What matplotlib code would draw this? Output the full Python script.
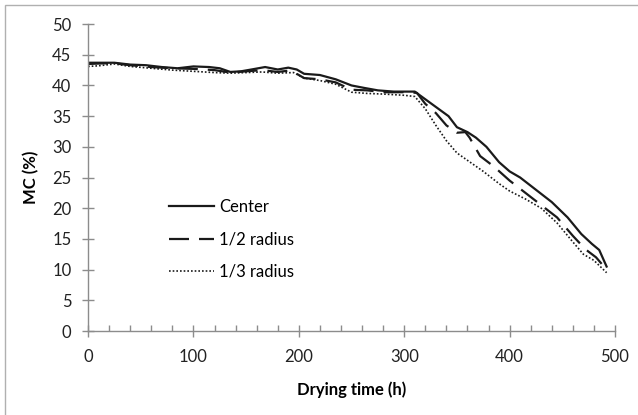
import matplotlib.pyplot as plt
from matplotlib import rcParams
from matplotlib.patches import Rectangle
from matplotlib.ticker import MultipleLocator

rcParams['font.family'] = ['Lato', 'DejaVu Sans']

# Drying time (h) and moisture content (%) for each position
center_t = [0, 10, 25, 40, 55, 70, 85, 100, 115, 125, 135, 145, 155, 168, 180, 190, 198,
            205, 220, 235, 250, 262, 275, 290, 310, 318, 330, 342, 350, 360, 368, 378,
            390, 400, 410, 425, 440, 455, 468, 478, 485, 492]
center_mc = [43.7, 43.7, 43.7, 43.4, 43.3, 43.0, 42.8, 43.1, 43.0, 42.8, 42.2, 42.3, 42.6,
             43.0, 42.6, 42.9, 42.6, 41.9, 41.7, 41.0, 40.0, 39.6, 39.2, 39.0, 39.0, 38.0,
             36.5, 35.0, 33.2, 32.4, 31.5, 30.0, 27.5, 26.0, 25.0, 23.0, 21.0, 18.5, 15.8,
             14.2, 13.2, 10.5]

half_t = [0, 15, 25, 40, 60, 80, 100, 120, 135, 150, 165, 180, 190, 197, 205, 220, 235,
          250, 265, 280, 300, 312, 320, 330, 340, 350, 358, 362, 372, 385, 400, 415, 430,
          445, 460, 472, 482, 492]
half_mc = [43.5, 43.6, 43.6, 43.3, 43.0, 42.8, 42.7, 42.5, 42.1, 42.3, 42.5, 42.2, 42.4,
           42.0, 41.2, 41.0, 40.5, 39.3, 39.2, 38.9, 38.9, 38.8, 37.0, 35.5, 33.5, 32.3,
           32.4, 31.5, 28.5, 26.8, 24.5, 22.5, 20.5, 18.5, 15.5, 13.3, 12.0, 10.0]

third_t = [0, 10, 25, 40, 60, 80, 100, 120, 135, 150, 165, 180, 195, 205, 220, 235, 250,
           265, 280, 300, 310, 320, 330, 340, 350, 360, 375, 390, 400, 415, 430, 445, 460,
           470, 480, 492]
third_mc = [43.1, 43.2, 43.5, 43.1, 42.8, 42.5, 42.3, 42.1, 42.0, 42.1, 42.2, 42.0, 42.1,
            41.2, 40.8, 40.2, 38.9, 38.7, 38.6, 38.4, 38.2, 36.2, 33.5, 31.0, 29.0, 27.8,
            26.0, 24.0, 22.8, 21.5, 20.0, 17.6, 14.5, 12.5, 11.5, 9.5]

fig = plt.figure(figsize=(6.38, 4.15), dpi=100)
ax = fig.add_axes([0.138, 0.2024, 0.826, 0.7396])

# Excel style chart border (only top/left visible in crop)
fig.patches.append(Rectangle((5 / 638, -0.1), 1.2, 1.1 - 5 / 415,
                             transform=fig.transFigure, fill=False,
                             ec='#b0b0b0', lw=1.0))

ax.plot(center_t, center_mc, color='#1a1a1a', lw=1.6, label='Center')
ax.plot(half_t, half_mc, color='#1a1a1a', lw=1.6, dashes=(9, 4.5), label='1/2 radius')
ax.plot(third_t, third_mc, color='#1a1a1a', lw=1.2, dashes=(1, 1.2), label='1/3 radius')

ax.set_xlim(0, 500)
ax.set_ylim(0, 50)
for s in ['top', 'right']:
    ax.spines[s].set_visible(False)
for s in ['left', 'bottom']:
    ax.spines[s].set_color('#8c8c8c')
    ax.spines[s].set_linewidth(1.0)

ax.xaxis.set_major_locator(MultipleLocator(100))
ax.xaxis.set_minor_locator(MultipleLocator(20))
ax.yaxis.set_major_locator(MultipleLocator(5))
ax.tick_params(axis='both', which='major', direction='inout', length=8, width=1,
               color='#8c8c8c', labelsize=12, labelcolor='#222222')
ax.tick_params(axis='x', which='minor', direction='in', length=4, width=1, color='#8c8c8c')
ax.tick_params(axis='y', pad=8)
ax.tick_params(axis='x', pad=9)

ax.set_xlabel('Drying time (h)', fontsize=12, fontweight='bold', labelpad=12)
ax.set_ylabel('MC (%)', fontsize=12, fontweight='bold', labelpad=9)

ax.legend(loc='upper left', bbox_to_anchor=(0.125, 0.478), frameon=False, fontsize=12,
          handlelength=2.7, handletextpad=0.3, labelspacing=0.98)

fig.savefig('out.png', dpi=100)
